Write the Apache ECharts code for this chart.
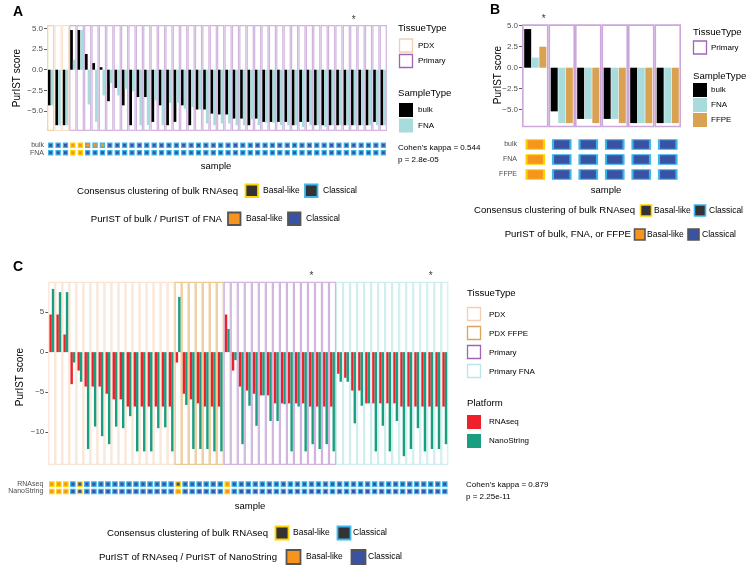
<!DOCTYPE html>
<html>
<head>
<meta charset="utf-8">
<script src="https://cdn.jsdelivr.net/npm/echarts@6.0.0/dist/echarts.min.js"></script>
<style>
html,body{margin:0;padding:0;background:#fff;}
#chart{width:749px;height:568px;}
</style>
</head>
<body>
<div id="chart"></div>
<script>
// ================= DATA =================
function codes(s){ return s.replace(/\s+/g,'').split(''); }
const TISSUE_NAMES = {X:'PDX', F:'PDX FFPE', P:'Primary', N:'Primary FNA'};

// ---- Panel A (46 samples) ----
const tissueA = codes('XXXPP PPPPP PPPPP PPPPP PPPPP PPPPP PPPPP PPPPP PPPPP P').map(c=>TISSUE_NAMES[c]);
const samplesA = tissueA.map((_,i)=>'A'+(i+1));
const bulkA = [-4.3,-6.7,-6.7,4.8,4.8,1.9,0.8,0.3,-3.8,-2.2,-4.3,-6.7,-3.3,-3.3,-6.3,
               -4.3,-6.7,-6.3,-4.3,-6.7,-4.8,-4.8,-5.3,-5.4,-5.4,-5.9,-5.9,-6.7,-5.9,-6.3,
               -6.3,-6.3,-6.3,-6.7,-6.3,-6.3,-6.7,-6.7,-6.7,-6.7,-6.7,-6.7,-6.7,-6.7,-6.3,-6.7];
const fnaA  = [-4.3,-6.7,-6.7,1.2,4.8,-4.2,-6.3,-3.1,-1.6,-3.1,-2.3,-2.6,-6.7,-6.7,-3.7,
               -6.7,-4.0,-4.0,-4.7,-4.5,-4.8,-6.5,-6.7,-6.5,-6.5,-6.7,-6.7,-6.0,-6.7,-6.4,
               -6.4,-6.7,-6.7,-6.7,-6.9,-6.7,-6.7,-6.9,-6.7,-6.7,-6.7,-6.7,-6.7,-6.7,-6.7,-6.7];
const consensusA = codes('CCCBB CCCCC CCCCC CCCCC CCCCC CCCCC CCCCC CCCCC CCCCC C');
const puristBulkA = codes('CCCBB BBBCC CCCCC CCCCC CCCCC CCCCC CCCCC CCCCC CCCCC C');
const puristFnaA  = codes('CCCBB CCCCC CCCCC CCCCC CCCCC CCCCC CCCCC CCCCC CCCCC C');
const rowsA = ['bulk','FNA'];
const starA = [[41, 5.95]];
const ticksA = [-5,-2.5,0,2.5,5];

// ---- Panel B (6 samples) ----
const tissueB = ['Primary','Primary','Primary','Primary','Primary','Primary'];
const samplesB = ['B1','B2','B3','B4','B5','B6'];
const bulkB = [4.6,-5.2,-6.1,-6.1,-6.6,-6.6];
const fnaB  = [1.2,-6.6,-6.1,-6.1,-6.6,-6.6];
const ffpeB = [2.5,-6.6,-6.6,-6.6,-6.6,-6.6];
const consensusB = codes('BCCCCC');
const puristB = { bulk: codes('BCCCCC'), FNA: codes('BCCCCC'), FFPE: codes('BCCCCC') };
const rowsB = ['bulk','FNA','FFPE'];
const starB = [[0, 5.75]];
const ticksB = [-5,-2.5,0,2.5,5];

// ---- Panel C (57 samples) ----
const tissueC = codes('XXXXX XXXXX XXXXX XXXFF FFFFF PPPPP PPPPP PPPPP PNNNN NNNNN NNNNN NN').map(c=>TISSUE_NAMES[c]);
const samplesC = tissueC.map((_,i)=>'C'+(i+1));
const rnaC = [4.7,4.7,2.2,-4.0,-2.3,-4.3,-4.3,-4.3,-5.2,-5.9,-5.9,-6.8,-6.8,-6.8,-6.8,-6.8,-6.8,-6.8,
              -1.3,-5.2,-5.9,-6.4,-6.8,-6.8,-6.8,
              4.7,-2.3,-4.3,-4.8,-5.2,-5.4,-5.4,-6.4,-6.4,-6.4,-6.4,-6.4,-6.8,-6.8,-6.8,-6.8,
              -2.7,-3.2,-4.8,-4.8,-6.4,-6.4,-6.4,-6.4,-6.4,-6.8,-6.8,-6.8,-6.8,-6.8,-6.8,-6.8];
const nanoC = [7.9,7.5,7.5,-1.3,-3.7,-12.1,-9.3,-10.5,-11.5,-9.3,-9.5,-8.0,-12.4,-12.4,-12.4,-9.5,-9.4,-12.4,
               6.9,-6.6,-12.1,-12.1,-12.1,-12.4,-12.4,
               2.9,-1.0,-11.5,-6.7,-9.2,-5.4,-8.6,-8.6,-6.5,-12.4,-6.8,-12.4,-11.5,-12.1,-11.5,-12.4,
               -3.7,-3.7,-8.9,-6.7,-6.4,-12.4,-9.2,-12.4,-8.6,-13.0,-12.1,-9.5,-12.4,-12.1,-12.1,-11.5];
const consensusC = codes('BBBCB CCCCC CCCCC CCCBC CCCCC BCCCC CCCCC CCCCC CCCCC CCCCC CCCCC CC');
const puristRnaC  = codes('BBBCC CCCCC CCCCC CCCCC CCCCC BCCCC CCCCC CCCCC CCCCC CCCCC CCCCC CC');
const puristNanoC = codes('BBBCC CCCCC CCCCC CCCBC CCCCC BCCCC CCCCC CCCCC CCCCC CCCCC CCCCC CC');
const rowsC = ['RNAseq','NanoString'];
const starC = [[37, 9.5],[54, 9.5]];
const ticksC = [-10,-5,0,5];

// ================= STYLE =================
const FONT = '"Liberation Sans", Arial, Helvetica, sans-serif';
const boxStroke = {'PDX':'#F9E3D2','PDX FFPE':'#EDC793','Primary':'#D1B5DE','Primary FNA':'#D0EEEE'};
const keyStroke = {'PDX':'#F2CFB2','PDX FFPE':'#DEA45A','Primary':'#A065B9','Primary FNA':'#BCE5E5'};
const FILL = {B:'#F7941D', C:'#3A52A3'};
const BORDER = {B:'#FFD400', C:'#3DB6EA'};

const Y = {
  A:{min:-7.4,max:5.4},
  B:{min:-7.1,max:5.17},
  C:{min:-14.1,max:8.8}
};

function fmt(v, dec){ const s = Math.abs(v).toFixed(dec); return (v < 0 ? '\u2212' : '') + s; }

function valueY(gridIndex, ext, ticks, dec, margin){
  return {type:'value', gridIndex, min:ext.min, max:ext.max,
    splitLine:{show:false}, axisLine:{show:false},
    axisTick:{show:true, length:3, lineStyle:{color:'#333', width:0.8}, customValues:ticks},
    axisLabel:{customValues:ticks, fontSize:8, color:'#4D4D4D', fontFamily:FONT, margin,
      formatter:v=>fmt(v,dec)}};
}
function catX(gridIndex, data){
  return {type:'category', gridIndex, data, axisLine:{show:false}, axisTick:{show:false}, axisLabel:{show:false}, splitLine:{show:false}};
}
function rowY(gridIndex, rows, fs, margin){
  return {type:'category', gridIndex, data:rows, inverse:true,
    axisLine:{show:false}, axisTick:{show:false}, splitLine:{show:false},
    axisLabel:{interval:0, hideOverlap:false, fontSize:fs, color:'#4D4D4D', fontFamily:FONT, margin, lineHeight:fs}};
}

function boxSeries(xi, tissues, ext, frac, lw, strokeMap, override){
  return {type:'custom', xAxisIndex:xi, yAxisIndex:xi, z:1, silent:true, clip:false,
    data: tissues.map((t,i)=>[i, 0]),
    renderItem(params, api){
      const i = api.value(0);
      const t = tissues[params.dataIndex];
      const p1 = api.coord([i, ext.max]);
      const p2 = api.coord([i, ext.min]);
      const w = api.size([1,0])[0]*frac;
      const col = (override && override[params.dataIndex]) || strokeMap[t];
      return {type:'rect', shape:{x:p1[0]-w/2, y:p1[1]+lw/2, width:w, height:p2[1]-p1[1]-lw},
        style:{fill:'rgba(0,0,0,0)', stroke:col, lineWidth:lw}};
    }};
}
function barSeries(xi, name, data, color, width, gap){
  return {type:'bar', name, xAxisIndex:xi, yAxisIndex:xi, data, barWidth:width, barGap:gap,
    itemStyle:{color}, z:3, silent:true};
}
function heatSeries(gi, rows, classRows, consensus, size, bw){
  const data = [];
  rows.forEach((r, ri)=>{
    classRows[ri].forEach((c, i)=>{
      data.push({value:[i, ri], itemStyle:{color:FILL[c], borderColor:BORDER[consensus[i]]}});
    });
  });
  return {type:'scatter', xAxisIndex:gi, yAxisIndex:gi, symbol:'rect', symbolSize:size,
    itemStyle:{borderWidth:bw, opacity:1}, data, silent:true, z:3};
}
function starSeries(xi, data, offset){
  return {type:'scatter', xAxisIndex:xi, yAxisIndex:xi, data, symbolSize:1, clip:false, silent:true,
    itemStyle:{color:'rgba(0,0,0,0)'},
    label:{show:true, formatter:'*', position:'inside', fontSize:10, color:'#000', fontFamily:FONT, offset:offset||[0,0]}};
}

// ---- graphic helpers ----
function txt(x, y, text, size, extra){
  return {type:'text', x, y, silent:true,
    style:Object.assign({text, fontSize:size, fontFamily:FONT, fill:'#000', align:'left', verticalAlign:'middle'}, extra||{})};
}
function key(x, y, w, h, fill, stroke, lw){
  return {type:'rect', silent:true, shape:{x, y, width:w, height:h}, style:{fill, stroke, lineWidth:lw||0}};
}

const G = [];
// Panel letters
G.push(txt(13, 12, 'A', 14, {fontWeight:'bold'}));
G.push(txt(490, 10.5, 'B', 14, {fontWeight:'bold'}));
G.push(txt(13, 267, 'C', 14, {fontWeight:'bold'}));
// y titles
G.push({type:'text', x:17, y:78, rotation:Math.PI/2, silent:true, style:{text:'PurIST score', fontSize:10, fontFamily:FONT, fill:'#000', align:'center', verticalAlign:'middle'}});
G.push({type:'text', x:498, y:75, rotation:Math.PI/2, silent:true, style:{text:'PurIST score', fontSize:10, fontFamily:FONT, fill:'#000', align:'center', verticalAlign:'middle'}});
G.push({type:'text', x:20, y:377, rotation:Math.PI/2, silent:true, style:{text:'PurIST score', fontSize:10, fontFamily:FONT, fill:'#000', align:'center', verticalAlign:'middle'}});
// x titles
G.push(txt(216, 166, 'sample', 9.5, {align:'center'}));
G.push(txt(606, 190, 'sample', 9.5, {align:'center'}));
G.push(txt(250, 506, 'sample', 9.5, {align:'center'}));

// ---- Panel A legends ----
G.push(txt(398, 28, 'TissueType', 9.6));
G.push(key(399.5, 39, 13, 13, '#fff', keyStroke['PDX'], 1.3));
G.push(txt(418, 45.5, 'PDX', 8));
G.push(key(399.5, 54.5, 13, 13, '#fff', keyStroke['Primary'], 1.3));
G.push(txt(418, 61, 'Primary', 8));
G.push(txt(398, 93, 'SampleType', 9.6));
G.push(key(399, 103, 14, 14, '#000000'));
G.push(txt(418, 110, 'bulk', 8));
G.push(key(399, 118.5, 14, 14, '#A8DCDC'));
G.push(txt(418, 125.5, 'FNA', 8));
G.push(txt(398, 148, 'Cohen\u2019s kappa = 0.544', 8));
G.push(txt(398, 160, 'p = 2.8e-05', 8));
G.push(txt(238, 191, 'Consensus clustering of bulk RNAseq', 9.6, {align:'right'}));
G.push(key(245.5, 184.5, 12.5, 12.5, '#333333', BORDER.B, 1.8));
G.push(txt(263, 191, 'Basal-like', 8.5));
G.push(key(305, 184.5, 12.5, 12.5, '#333333', BORDER.C, 1.8));
G.push(txt(323, 191, 'Classical', 8.5));
G.push(txt(222, 219, 'PurIST of bulk / PurIST of FNA', 9.6, {align:'right'}));
G.push(key(228, 212.5, 12.5, 12.5, FILL.B, '#555555', 1.8));
G.push(txt(246, 219, 'Basal-like', 8.5));
G.push(key(288, 212.5, 12.5, 12.5, FILL.C, '#555555', 1.8));
G.push(txt(306, 219, 'Classical', 8.5));

// ---- Panel B legends ----
G.push(txt(693, 32, 'TissueType', 9.6));
G.push(key(693.5, 41, 13, 13, '#fff', keyStroke['Primary'], 1.3));
G.push(txt(711, 47.5, 'Primary', 8));
G.push(txt(693, 76, 'SampleType', 9.6));
G.push(key(693, 83, 14, 14, '#000000'));
G.push(txt(711, 90, 'bulk', 8));
G.push(key(693, 98, 14, 14, '#A8DCDC'));
G.push(txt(711, 105, 'FNA', 8));
G.push(key(693, 113, 14, 14, '#D9A152'));
G.push(txt(711, 120, 'FFPE', 8));
G.push(txt(635, 210.5, 'Consensus clustering of bulk RNAseq', 9.6, {align:'right'}));
G.push(key(640.5, 205, 11, 11, '#333333', BORDER.B, 1.6));
G.push(txt(654, 210.5, 'Basal-like', 8.5));
G.push(key(694.5, 205, 11, 11, '#333333', BORDER.C, 1.6));
G.push(txt(709, 210.5, 'Classical', 8.5));
G.push(txt(631, 234.5, 'PurIST of bulk, FNA, or FFPE', 9.6, {align:'right'}));
G.push(key(634.5, 229, 10.5, 11, FILL.B, '#555555', 1.6));
G.push(txt(647, 234.5, 'Basal-like', 8.5));
G.push(key(688, 229, 11, 11, FILL.C, '#555555', 1.6));
G.push(txt(702, 234.5, 'Classical', 8.5));

// ---- Panel C legends ----
G.push(txt(467, 293, 'TissueType', 9.6));
['PDX','PDX FFPE','Primary','Primary FNA'].forEach((t, k)=>{
  G.push(key(467.5, 307.5 + 19*k, 13, 13, '#fff', keyStroke[t], 1.3));
  G.push(txt(489, 314.5 + 19*k, t, 8));
});
G.push(txt(467, 403, 'Platform', 9.6));
G.push(key(467, 415, 14, 14, '#EE2029'));
G.push(txt(489, 422, 'RNAseq', 8));
G.push(key(467, 434, 14, 14, '#1A9E80'));
G.push(txt(489, 441, 'NanoString', 8));
G.push(txt(466, 485, 'Cohen\u2019s kappa = 0.879', 8));
G.push(txt(466, 497, 'p = 2.25e-11', 8));
G.push(txt(268, 533, 'Consensus clustering of bulk RNAseq', 9.6, {align:'right'}));
G.push(key(275.5, 526.5, 13, 13, '#333333', BORDER.B, 1.8));
G.push(txt(293, 533, 'Basal-like', 8.5));
G.push(key(337.5, 526.5, 13, 13, '#333333', BORDER.C, 1.8));
G.push(txt(353, 533, 'Classical', 8.5));
G.push(txt(277, 557, 'PurIST of RNAseq / PurIST of NanoString', 9.6, {align:'right'}));
G.push(key(286.5, 550, 14, 14, FILL.B, '#555555', 1.8));
G.push(txt(306, 557, 'Basal-like', 8.5));
G.push(key(351.5, 550, 14, 14, FILL.C, '#555555', 1.8));
G.push(txt(368, 557, 'Classical', 8.5));

// ================= OPTION =================
const option = {
  backgroundColor:'#ffffff',
  animation:false,
  textStyle:{fontFamily:FONT},
  grid:[
    {left:47, top:25, width:340, height:106, outerBoundsMode:'none'},
    {left:522, top:24.3, width:159, height:103, outerBoundsMode:'none'},
    {left:48.3, top:281.7, width:400, height:183.3, outerBoundsMode:'none'},
    {left:47, top:141.5, width:340, height:15, outerBoundsMode:'none'},
    {left:522, top:137, width:159, height:45, outerBoundsMode:'none'},
    {left:48.3, top:480.5, width:400, height:14.6, outerBoundsMode:'none'}
  ],
  xAxis:[catX(0,samplesA), catX(1,samplesB), catX(2,samplesC), catX(3,samplesA), catX(4,samplesB), catX(5,samplesC)],
  yAxis:[
    valueY(0, Y.A, ticksA, 1, 4),
    valueY(1, Y.B, ticksB, 1, 4),
    valueY(2, Y.C, ticksC, 0, 4),
    rowY(3, rowsA, 7, 3),
    rowY(4, rowsB, 7, 5),
    rowY(5, rowsC, 7, 5)
  ],
  series:[
    boxSeries(0, tissueA, Y.A, 0.81, 1.2, boxStroke, {0:'#F6D398'}),
    barSeries(0, 'bulk', bulkA, '#000000', 2.7, '0%'),
    barSeries(0, 'FNA', fnaA, '#A8DCDC', 2.7, '0%'),
    starSeries(0, starA),

    boxSeries(1, tissueB, Y.B, 0.94, 1.6, {'Primary':'#CCA7DA'}),
    barSeries(1, 'bulk', bulkB, '#000000', 7, '8%'),
    barSeries(1, 'FNA', fnaB, '#A8DCDC', 7, '8%'),
    barSeries(1, 'FFPE', ffpeB, '#D9A152', 7, '8%'),
    starSeries(1, starB, [8.5, 0]),

    boxSeries(2, tissueC, Y.C, 0.85, 1.2, boxStroke),
    barSeries(2, 'RNAseq', rnaC, '#EE2029', 2.4, '0%'),
    barSeries(2, 'NanoString', nanoC, '#1A9E80', 2.4, '0%'),
    starSeries(2, starC),

    heatSeries(3, rowsA, [puristBulkA, puristFnaA], consensusA, [4.2, 4.4], 1.2),
    heatSeries(4, rowsB, [puristB.bulk, puristB.FNA, puristB.FFPE], consensusB, [17.5, 9.5], 1.6),
    heatSeries(5, rowsC, [puristRnaC, puristNanoC], consensusC, [4.4, 4.4], 1.2)
  ],
  graphic: G
};

const chart = echarts.init(document.getElementById('chart'));
chart.setOption(option);
</script>
</body>
</html>
